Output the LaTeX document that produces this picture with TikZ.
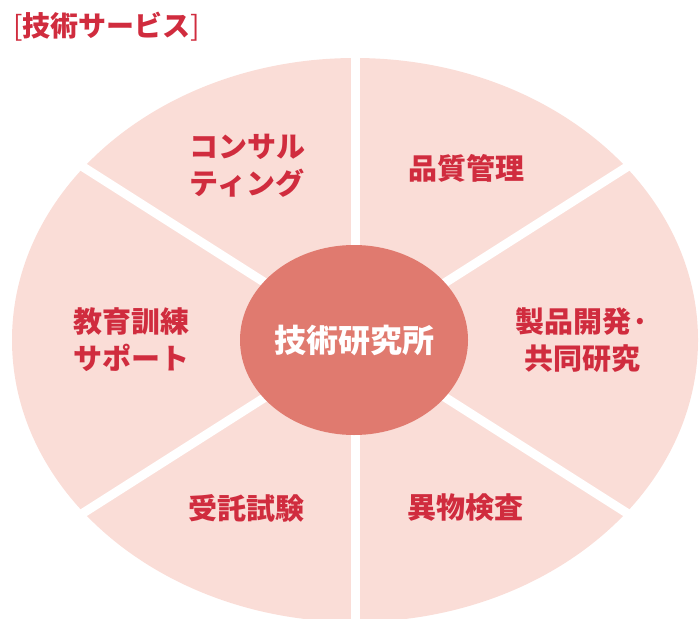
\documentclass[tikz,border=0pt]{standalone}
\usepackage{fontspec}
\newfontfamily\jp{Noto Sans CJK JP}
\usetikzlibrary{shapes.geometric}
\definecolor{sectorpink}{HTML}{FADDD7}
\definecolor{hubred}{HTML}{E07A6F}
\definecolor{labelred}{HTML}{D02C3E}
\tikzset{
  divider/.style={draw=white, line width=9pt},
  label/.style={text=labelred, font=\jp\bfseries\fontsize{29}{37}\selectfont, align=center, inner sep=0pt},
  hub/.style={ellipse, fill=hubred, minimum width=228pt, minimum height=190pt, inner sep=0pt,
    text=white, font=\jp\bfseries\fontsize{32}{37}\selectfont},
}
\begin{document}
\begin{tikzpicture}[x=1pt,y=-1pt]
\useasboundingbox (0,0) rectangle (700,618);
\clip (0,0) rectangle (700,618);
\coordinate (c) at (355,340);
\fill[sectorpink] (c) ellipse [x radius=343pt, y radius=282pt];
\draw[divider] (c) -- ++(0,-320);
\draw[divider] (c) -- ++(0,320);
\draw[divider] (c) -- ++(330,-210);
\draw[divider] (c) -- ++(-330,-210);
\draw[divider] (c) -- ++(330,210);
\draw[divider] (c) -- ++(-330,210);
\node[hub] (hub) at (354,340) {技術研究所};
\node[label] (consult) at (247,166) {コンサル\\ティング};
\node[label] (quality) at (466,168) {品質管理};
\node[label] (develop) at (582,340) {製品開発·\\共同研究};
\node[label] (educate) at (131,340) {教育訓練\\サポート};
\node[label] (contract) at (246,508) {受託試験};
\node[label] (foreign) at (465,508) {異物検査};
\node[anchor=west, inner sep=0pt, text=labelred, font=\jp\fontsize{28}{32}\selectfont] (title) at (13,27)
  {[{\bfseries 技術サービス}]};
\end{tikzpicture}
\end{document}
